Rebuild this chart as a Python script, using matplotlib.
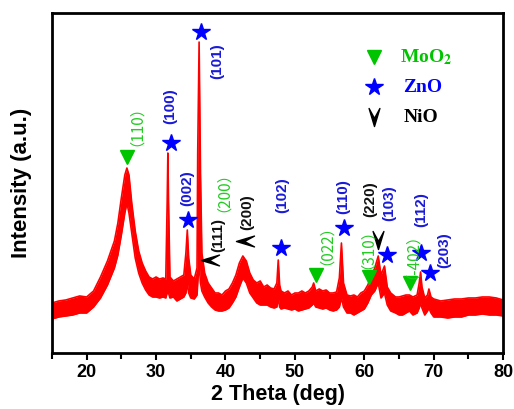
import matplotlib
matplotlib.use('Agg')
import matplotlib.pyplot as plt
from matplotlib.path import Path
from matplotlib.ticker import MultipleLocator

plt.rcParams['mathtext.fontset'] = 'stix'

theta = [15.0, 16.0, 17.0, 18.0, 19.0, 20.0, 21.0, 22.0, 23.0, 24.0, 24.5, 25.0,
         25.5, 25.8, 26.1, 26.5, 27.0, 27.5, 28.0, 28.5, 29.0, 29.5, 30.0, 30.5,
         31.0, 31.4, 31.6, 31.7, 31.8, 32.0, 32.5, 33.0, 33.5, 34.0, 34.3, 34.5,
         34.7, 35.0, 35.5, 35.9, 36.0, 36.2, 36.4, 36.6, 37.0, 37.5, 38.0, 38.5,
         39.0, 39.5, 40.0, 40.5, 41.0, 41.5, 42.0, 42.5, 43.0, 43.5, 44.0, 44.5,
         45.0, 45.5, 46.0, 46.5, 47.0, 47.4, 47.6, 47.8, 48.0, 48.5, 49.0, 49.5,
         50.0, 50.5, 51.0, 51.5, 52.0, 52.5, 52.7, 53.0, 53.5, 54.0, 54.5, 55.0,
         55.5, 56.0, 56.4, 56.7, 57.0, 57.5, 58.0, 58.5, 59.0, 59.5, 60.0, 60.5,
         61.0, 61.5, 62.0, 62.4, 62.9, 63.3, 63.8, 64.5, 65.0, 65.5, 66.0, 66.5,
         67.0, 67.6, 67.9, 68.1, 68.3, 68.7, 69.1, 69.3, 69.6, 70.0, 71.0, 72.0,
         73.0, 74.0, 75.0, 76.0, 77.0, 78.0, 79.0, 80.0]
low = [34, 36, 37, 38, 40, 40, 46, 55, 68, 85, 98, 118,
       140, 150, 140, 120, 95, 80, 70, 63, 58, 56, 56, 55,
       56, 55, 60, 70, 60, 55, 56, 52, 54, 56, 60, 70,
       60, 55, 54, 58, 70, 90, 70, 62, 56, 50, 46, 43,
       42, 42, 43, 45, 50, 56, 66, 75, 70, 60, 55, 50,
       48, 48, 48, 46, 45, 46, 55, 46, 44, 45, 44, 43,
       44, 42, 43, 44, 45, 48, 50, 46, 45, 44, 45, 43,
       42, 43, 46, 55, 46, 40, 40, 38, 40, 42, 44, 50,
       58, 62, 70, 55, 60, 48, 42, 40, 38, 38, 40, 42,
       38, 40, 45, 50, 45, 38, 42, 45, 40, 36, 36, 35,
       36, 36, 38, 38, 39, 38, 38, 37]
high = [50, 52, 53, 55, 57, 56, 62, 76, 92, 112, 130, 155,
        178, 185, 178, 150, 122, 102, 90, 82, 76, 74, 76, 74,
        75, 74, 150, 200, 150, 76, 72, 74, 76, 78, 100, 123,
        95, 78, 74, 85, 200, 311, 180, 100, 80, 70, 65, 60,
        60, 58, 62, 64, 70, 78, 90, 97, 92, 80, 73, 70,
        72, 66, 68, 65, 64, 70, 93, 68, 62, 60, 62, 58,
        60, 60, 62, 60, 62, 66, 70, 62, 64, 62, 63, 60,
        60, 61, 75, 110, 70, 58, 57, 58, 56, 60, 62, 68,
        77, 85, 97, 78, 87, 66, 60, 56, 56, 57, 58, 58,
        56, 58, 70, 81, 66, 55, 58, 64, 56, 54, 52, 53,
        54, 54, 55, 55, 56, 56, 55, 53]

# phase markers
moo2_x = [25.8, 53.1, 60.6, 66.6]
moo2_y = [196, 78, 76, 70]
zno_x = [32.2, 36.5, 34.6, 48.0, 57.0, 63.3, 68.2, 69.5]
zno_y = [210, 321, 133, 105, 125, 98, 100, 80]
nio_x = [37.8, 42.8, 62.0]
nio_y = [93, 112, 113]

# peak labels: (x, y, text, phase)
peak_labels = [
    (26.0, 235, '（110）', 'MoO2'),
    (38.5, 169, '（200）', 'MoO2'),
    (53.4, 116, '（022）', 'MoO2'),
    (59.3, 112, '（310）', 'MoO2'),
    (65.8, 105, '（-402）', 'MoO2'),
    (32.0, 247, '(100)', 'ZnO'),
    (38.8, 292, '(101)', 'ZnO'),
    (34.5, 165, '(002)', 'ZnO'),
    (48.2, 158, '(102)', 'ZnO'),
    (57.0, 156, '(110)', 'ZnO'),
    (63.6, 150, '(103)', 'ZnO'),
    (68.2, 143, '(112)', 'ZnO'),
    (71.5, 103, '(203)', 'ZnO'),
    (38.9, 118, '(111)', 'NiO'),
    (43.1, 141, '(200)', 'NiO'),
    (60.8, 154, '(220)', 'NiO'),
]

colors = {'MoO2': '#00c400', 'ZnO': '#0000ff', 'NiO': 'black'}
label_colors = {'MoO2': '#22cc22', 'ZnO': '#1a1ad8', 'NiO': '#111111'}

# chevron markers for NiO
chev_down = Path([(-0.6, 1.0), (0.0, -1.0), (0.6, 1.0), (0.0, -0.1), (-0.6, 1.0)],
                 [Path.MOVETO, Path.LINETO, Path.LINETO, Path.LINETO, Path.CLOSEPOLY])
chev_left = Path([(1.0, 0.6), (-1.0, 0.0), (1.0, -0.6), (-0.1, 0.0), (1.0, 0.6)],
                 [Path.MOVETO, Path.LINETO, Path.LINETO, Path.LINETO, Path.CLOSEPOLY])

fig = plt.figure(figsize=(5.14, 4.09), dpi=100)
ax = fig.add_axes([0.101, 0.137, 0.878, 0.831])

ax.fill_between(theta, low, high, color='red', lw=0)
ax.plot(theta, high, color='red', lw=1.2)
ax.plot(theta, low, color='red', lw=1.2)

ax.plot(moo2_x, moo2_y, 'v', color=colors['MoO2'], ms=10, ls='none')
ax.plot(zno_x, zno_y, '*', color=colors['ZnO'], ms=13, ls='none')
ax.plot(nio_x[:2], nio_y[:2], marker=chev_left, color='black', ms=13, ls='none')
ax.plot(nio_x[2:], nio_y[2:], marker=chev_down, color='black', ms=13, ls='none')

for x, y, s, ph in peak_labels:
    if ph == 'MoO2':
        ax.text(x, y, s, rotation=90, ha='center', va='center', color=label_colors[ph],
                fontsize=11, family=['Noto Sans CJK SC'])
    else:
        ax.text(x, y, s, rotation=90, ha='center', va='center', color=label_colors[ph],
                fontsize=11, fontweight='bold', family=['Liberation Sans'])

# legend drawn by hand
leg_y = [0.871, 0.782, 0.694]
ax.plot([0.714], [leg_y[0]], 'v', color=colors['MoO2'], ms=10, transform=ax.transAxes)
ax.plot([0.714], [leg_y[1]], '*', color=colors['ZnO'], ms=13, transform=ax.transAxes)
ax.plot([0.714], [leg_y[2]], marker=chev_down, color='black', ms=13, transform=ax.transAxes)
leg_font = dict(family='Liberation Serif', fontweight='bold', fontsize=14,
                transform=ax.transAxes, va='center', ha='left')
ax.text(0.772, leg_y[0], r'MoO$_\mathbf{2}$', color=colors['MoO2'], **leg_font)
ax.text(0.778, leg_y[1], 'ZnO', color=colors['ZnO'], **leg_font)
ax.text(0.780, leg_y[2], 'NiO', color='black', **leg_font)

ax.set_xlim(15, 80)
ax.set_ylim(0, 340)
ax.xaxis.set_major_locator(MultipleLocator(10))
ax.xaxis.set_minor_locator(MultipleLocator(5))
ax.set_yticks([])
ax.tick_params(axis='x', which='major', direction='out', length=5, width=1.5, pad=3)
ax.tick_params(axis='x', which='minor', direction='out', length=4, width=1.5)
for lab in ax.get_xticklabels():
    lab.set_fontfamily('Liberation Sans')
    lab.set_fontweight('bold')
    lab.set_fontsize(13)
for sp in ax.spines.values():
    sp.set_linewidth(2)

ax.set_xlabel('2 Theta (deg)', fontsize=15.5, fontweight='bold', family='Liberation Sans', labelpad=2)
ax.set_ylabel('Intensity (a.u.)', fontsize=16, fontweight='bold', family='Liberation Sans', labelpad=14)

fig.savefig('out.png', dpi=100)
